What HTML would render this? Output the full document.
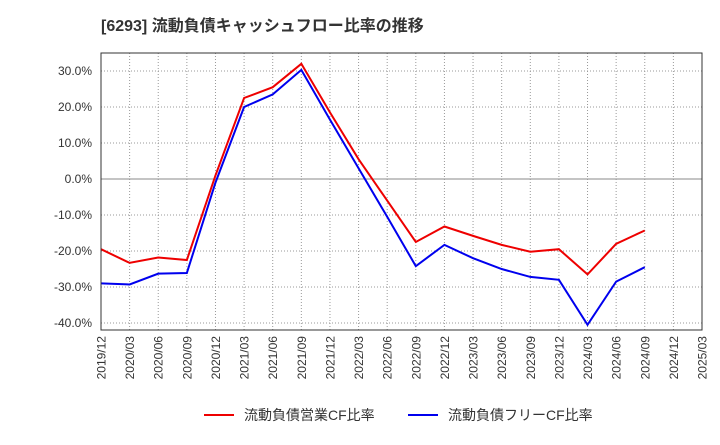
<!DOCTYPE html>
<html><head><meta charset="utf-8"><style>
body{margin:0;background:#fff;font-family:"Liberation Sans","Noto Sans CJK JP",sans-serif}
svg text{font-family:"Liberation Sans","Noto Sans CJK JP",sans-serif}
</style></head><body>
<svg width="720" height="440">
<text x="101" y="31" font-size="16" font-weight="bold" fill="#333">[6293]  流動負債キャッシュフロー比率の推移</text>
<g id="grid"></g><g id="axes"></g><g id="series"></g>
<rect x="101" y="53" width="601" height="277" fill="none" stroke="#333" stroke-width="1"/>
<g>
<line x1="204" y1="415" x2="234" y2="415" stroke="#e00" stroke-width="2"/>
<text x="244" y="420" font-size="14" fill="#333">流動負債営業CF比率</text>
<line x1="408" y1="415" x2="438" y2="415" stroke="#00e" stroke-width="2"/>
<text x="448" y="420" font-size="14" fill="#333">流動負債フリーCF比率</text>
</g>
</svg>
<script>
const categories=["2019/12","2020/03","2020/06","2020/09","2020/12","2021/03","2021/06","2021/09","2021/12","2022/03","2022/06","2022/09","2022/12","2023/03","2023/06","2023/09","2023/12","2024/03","2024/06","2024/09","2024/12","2025/03"];
const operatingCF=[-19.5,-23.3,-21.8,-22.5,1,22.5,25.5,32,18.5,5.5,-6,-17.5,-13.2,-15.8,-18.3,-20.2,-19.5,-26.5,-18,-14.3];
const freeCF=[-29,-29.3,-26.3,-26.1,-1,20,23.5,30.3,16.5,3,-10.5,-24.2,-18.3,-22,-25,-27.2,-28,-40.5,-28.5,-24.5];
const yTicks=[30,20,10,0,-10,-20,-30,-40];
const NS="http://www.w3.org/2000/svg";
const x=i=>101+i*601/(categories.length-1);
const y=v=>179-v*3.6;
const grid=document.getElementById('grid'),axes=document.getElementById('axes'),series=document.getElementById('series');
function mk(t,a,p){const e=document.createElementNS(NS,t);for(const k in a)e.setAttribute(k,a[k]);p.appendChild(e);return e;}
yTicks.forEach(v=>{
 const l=mk('line',{x1:101,x2:702,y1:y(v),y2:y(v),stroke:v===0?'#888':'#999','stroke-dasharray':v===0?'':'1,2'},grid);
 
 
 const t=mk('text',{x:92,y:y(v)+4,'font-size':12,'text-anchor':'end',fill:'#333'},axes);
 t.textContent=v.toFixed(1)+'%';
 
 
});
categories.forEach((c,i)=>{
 if(i>0&&i<categories.length-1){const l=mk('line',{x1:x(i),x2:x(i),y1:53,y2:330,stroke:'#999','stroke-dasharray':'1,2'},grid);
 
 }
 const t=mk('text',{transform:`translate(${x(i)+4.5},336) rotate(-90)`,'font-size':12,'text-anchor':'end',fill:'#333'},axes);
 t.textContent=c;
 
 
});
function line(d,col,name){
 const p=mk('polyline',{points:d.map((v,i)=>x(i)+','+y(v)).join(' '),fill:'none',stroke:col,'stroke-width':2},series);
 
 
}
line(operatingCF,'#e00','operating-cf-line');
line(freeCF,'#00e','free-cf-line');
</script>
</body></html>
